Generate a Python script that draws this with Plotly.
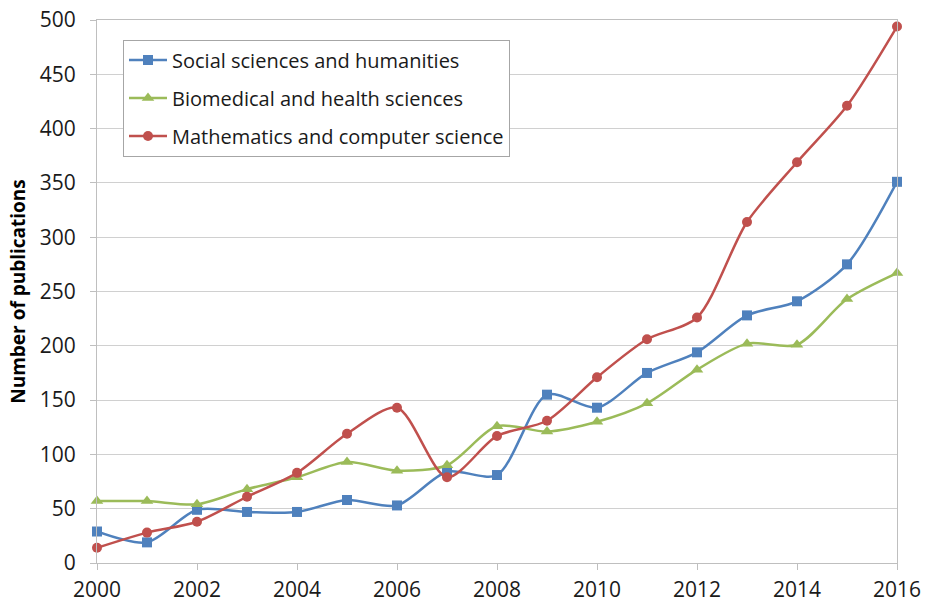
import plotly.graph_objects as go

years = list(range(2000, 2017))
social = [29, 19, 49, 47, 47, 58, 53, 84, 81, 155, 143, 175, 194, 228, 241, 275, 351]
biomed = [57, 57, 54, 68, 79, 93, 85, 90, 126, 121, 130, 147, 178, 202, 201, 243, 267]
math_cs = [14, 28, 38, 61, 83, 119, 143, 79, 117, 131, 171, 206, 226, 314, 369, 421, 494]

names = ["Social sciences and humanities", "Biomedical and health sciences",
         "Mathematics and computer science"]
colors = ["#4f81bd", "#9bbb59", "#c0504d"]
symbols = ["square", "triangle-up", "circle"]
series = [social, biomed, math_cs]

FONT = "Open Sans"

fig = go.Figure()
for i, (nm, vals) in enumerate(zip(names, series)):
    fig.add_trace(go.Scatter(
        x=years, y=vals, name=nm, mode="lines+markers",
        line=dict(color=colors[i], width=2.5, shape="spline", smoothing=0.8),
        marker=dict(symbol=symbols[i], size=10 if symbols[i] != "triangle-up" else 11,
                    color=colors[i]),
        cliponaxis=False, legendgroup=f"g{i}",
    ))

fig.update_layout(
    width=933, height=605,
    margin=dict(l=97, r=36, t=19.5, b=41.7, autoexpand=False),
    paper_bgcolor="white", plot_bgcolor="white",
    font=dict(family=FONT, size=21, color="#1a1a1a"),
    showlegend=True,
    legend=dict(
        x=0.0325, y=0.964, xanchor="left", yanchor="top",
        bgcolor="white", bordercolor="#a6a6a6", borderwidth=1,
        font=dict(family=FONT, size=20, color="#1a1a1a"),
        tracegroupgap=9, traceorder="grouped", itemwidth=38,
    ),
    xaxis=dict(
        range=[2000, 2016], tickmode="array", tickvals=list(range(2000, 2017, 2)),
        ticks="outside", ticklen=6, tickcolor="#bfbfbf",
        showline=True, linecolor="#bfbfbf", linewidth=1, mirror=True,
        showgrid=False, zeroline=False, automargin=False,
        tickfont=dict(family=FONT, size=21, color="#1a1a1a"),
        ticklabelstandoff=2,
    ),
    yaxis=dict(
        range=[0, 500], tickmode="array", tickvals=list(range(0, 501, 50)),
        ticks="outside", ticklen=6, tickcolor="#bfbfbf",
        showline=True, linecolor="#bfbfbf", linewidth=1, mirror=True,
        showgrid=True, gridcolor="#d0d0d0", gridwidth=1, zeroline=False,
        automargin=False,
        tickfont=dict(family=FONT, size=21, color="#1a1a1a"),
        ticklabelstandoff=10,
        title=dict(text="<b>Number of publications</b>",
                   font=dict(family=FONT, size=19, color="#000000"), standoff=9),
    ),
)

fig.write_html("out.html", config={"displayModeBar": False},
               post_script="document.body.style.margin='0';")
